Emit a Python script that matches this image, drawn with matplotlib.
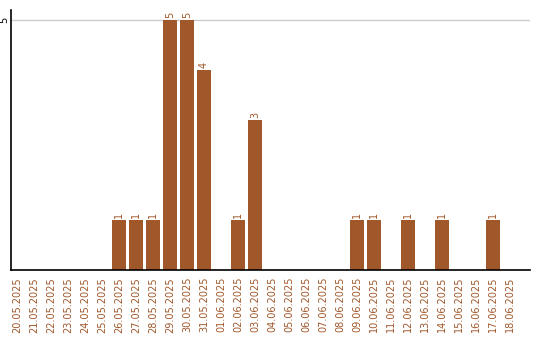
import matplotlib
matplotlib.use('Agg')
from matplotlib import pyplot as plt
from datetime import date, timedelta

# daily counts, 20.05.2025 .. 18.06.2025
start = date(2025, 5, 20)
dates = [(start + timedelta(days=i)).strftime('%d.%m.%Y') for i in range(30)]
counts = {'26.05.2025': 1, '27.05.2025': 1, '28.05.2025': 1, '29.05.2025': 5,
          '30.05.2025': 5, '31.05.2025': 4, '02.06.2025': 1, '03.06.2025': 3,
          '09.06.2025': 1, '10.06.2025': 1, '12.06.2025': 1, '14.06.2025': 1,
          '17.06.2025': 1}
values = [counts.get(d, 0) for d in dates]

color = '#a0572a'

fig = plt.figure(figsize=(5.4, 3.4), dpi=100)
ax = fig.add_axes([11 / 540, 70 / 340, 519 / 540, 260 / 340])

x = list(range(len(dates)))
ax.bar(x, values, width=0.82, color=color, zorder=2)
for i, v in zip(x, values):
    if v > 0:
        ax.text(i, v + 0.04, str(v), rotation=90, ha='center', va='bottom',
                fontsize=7, color=color)

ax.set_xlim(-0.35, 30.18)
ax.set_ylim(0, 5.2)
ax.set_yticks([5])
ax.set_yticklabels(['5'], rotation=90, va='center', fontsize=7)
ax.yaxis.grid(True, color='#cccccc', linewidth=1, zorder=0)
ax.tick_params(axis='y', length=0, pad=1)
ax.set_xticks(x)
ax.set_xticklabels(dates, rotation=90, fontsize=7, color=color)
ax.tick_params(axis='x', length=0, pad=5)
for s in ('top', 'right'):
    ax.spines[s].set_visible(False)
for s in ('left', 'bottom'):
    ax.spines[s].set_linewidth(1.2)

fig.savefig('out.png', dpi=100)
